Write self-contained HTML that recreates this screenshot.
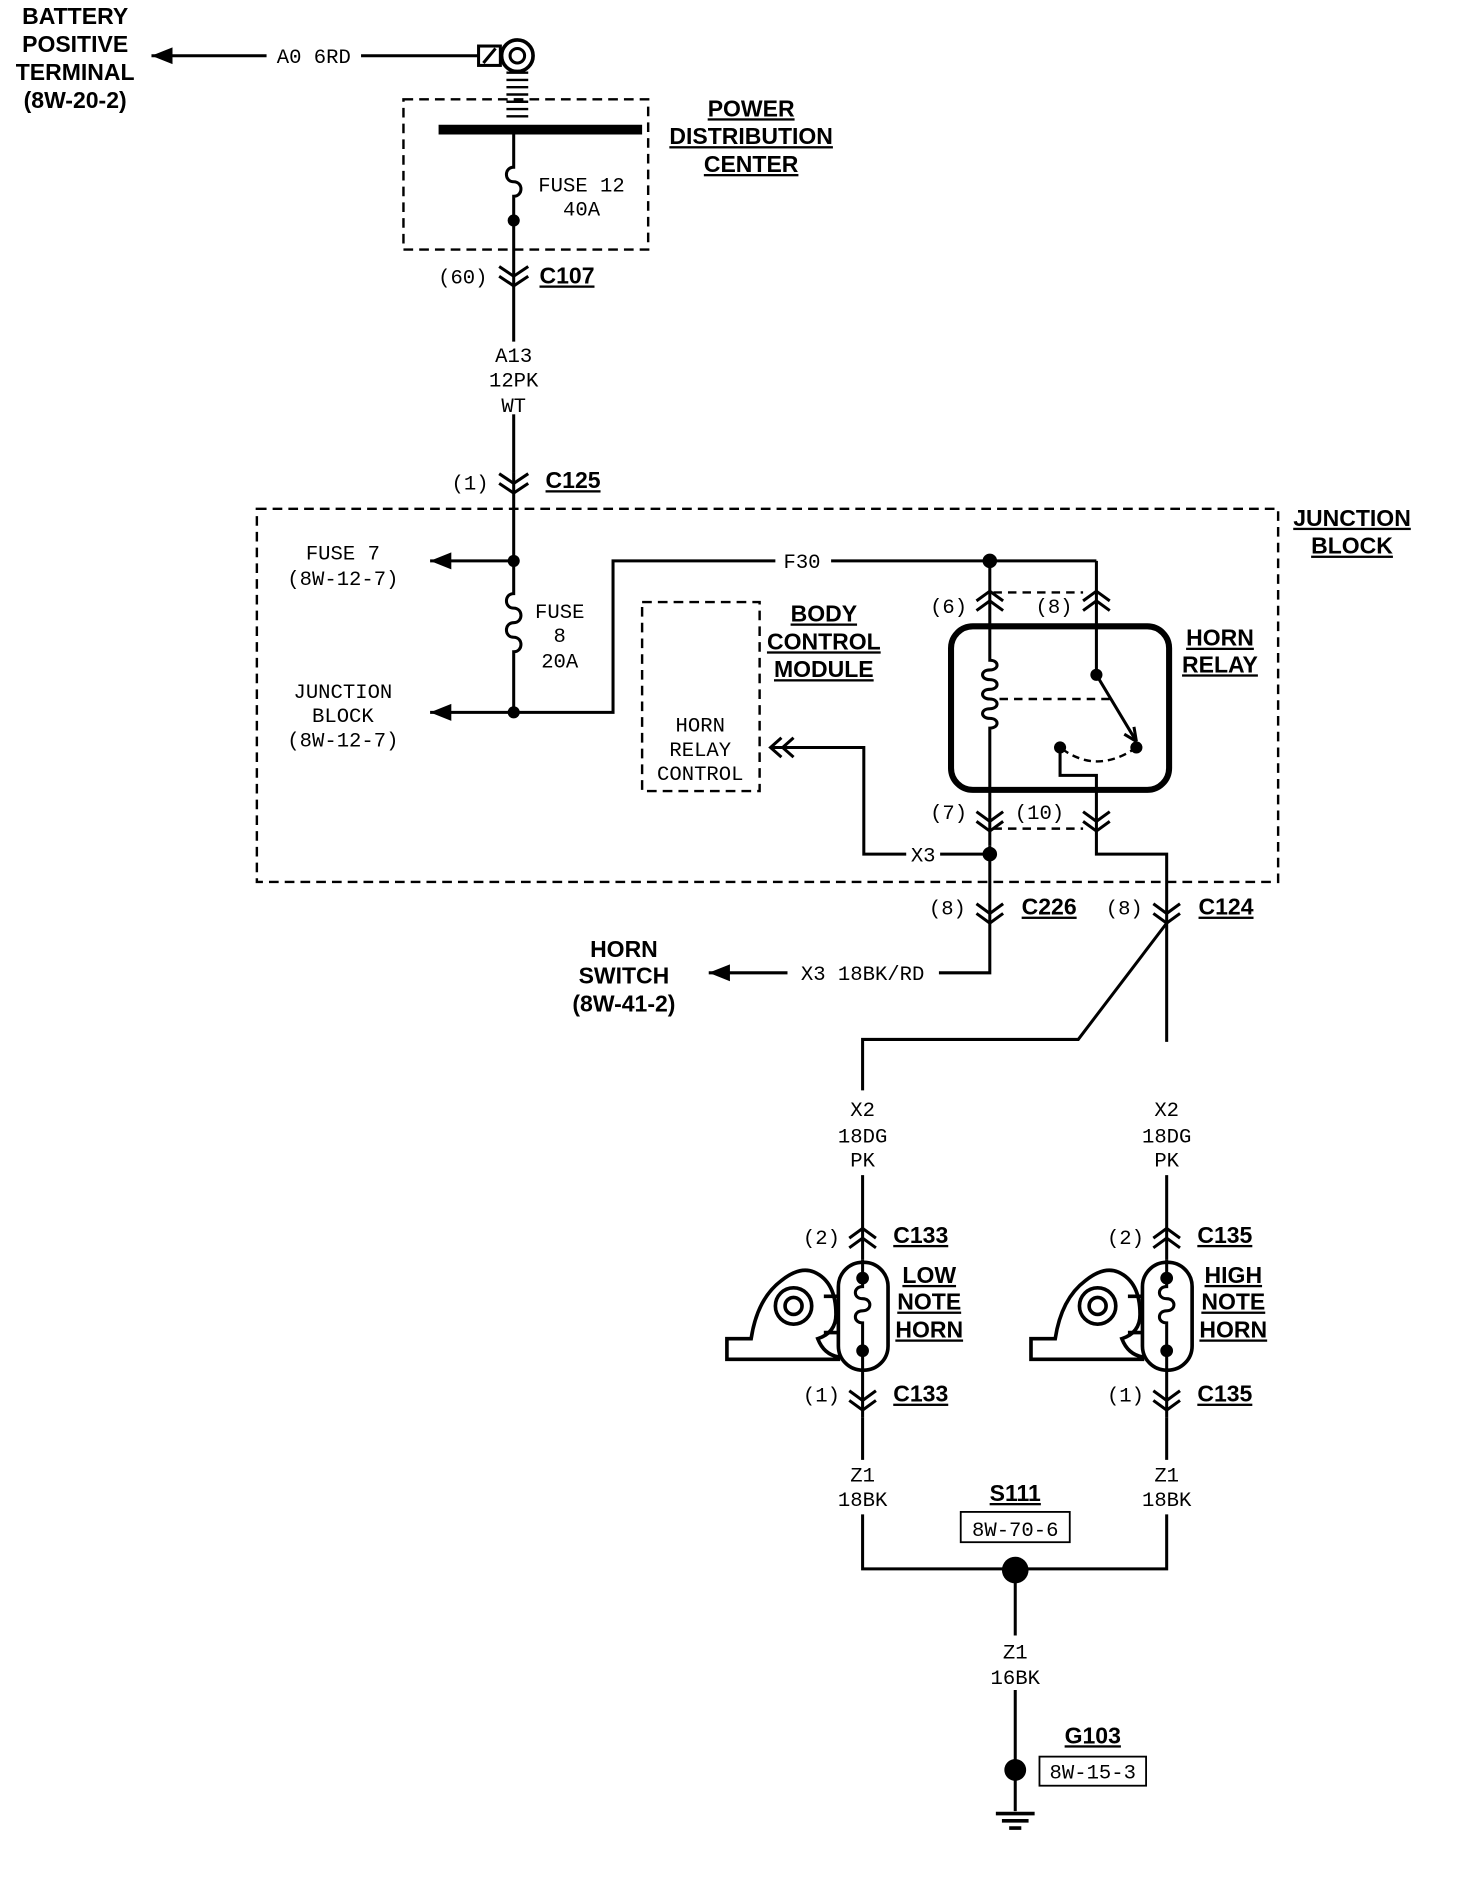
<!DOCTYPE html>
<html><head><meta charset="utf-8"><style>
html,body{margin:0;padding:0;background:#fff;width:1472px;height:1902px;overflow:hidden;}
svg{display:block;}
text{font-family:"Liberation Mono",monospace;font-size:17px;fill:#000;text-anchor:middle;}
.b{font-family:"Liberation Sans",sans-serif;font-weight:bold;font-size:19px;text-decoration:underline;}
.bn{font-family:"Liberation Sans",sans-serif;font-weight:bold;font-size:19px;}
</style></head><body>
<svg width="1472" height="1902" viewBox="0 0 1215 1570" xmlns="http://www.w3.org/2000/svg">
<defs>
<marker id="ar" viewBox="0 0 10 10" refX="10" refY="5" markerWidth="7" markerHeight="7" orient="auto"><path d="M0,1 L10,5 L0,9 z" fill="#000"/></marker>
</defs>
<g fill="none" stroke="#000" stroke-width="2.5">
<!-- battery -->
<line x1="220" y1="46" x2="125" y2="46" marker-end="url(#ar)"/>
<line x1="298" y1="46" x2="395" y2="46"/>
<rect x="395" y="38" width="18" height="16"/>
<line x1="399" y1="52" x2="409" y2="40"/>
<circle cx="427" cy="46" r="13" stroke-width="3"/>
<circle cx="427" cy="46" r="6"/>
<path d="M418,60 h18 M418,66 h18 M418,72 h18 M418,78 h18 M418,84 h18 M418,90 h18 M418,96 h18" stroke-width="2"/>
<!-- PDC -->
<rect x="333" y="82" width="202" height="124" stroke-dasharray="8,5" stroke-width="2"/>
<line x1="362" y1="107" x2="530" y2="107" stroke-width="8"/>
<path d="M424,107 V138 c-8,0 -8,12 0,12 c8,0 8,12 0,12 V282"/>
<path d="M412,220 l12,8 l12,-8 M412,228 l12,8 l12,-8"/>
<line x1="424" y1="342" x2="424" y2="390"/>
<path d="M412,391 l12,8 l12,-8 M412,399 l12,8 l12,-8"/>
<!-- junction block -->
<rect x="212" y="420" width="843" height="308" stroke-dasharray="8,5" stroke-width="2"/>
<path d="M424,390 V490 c-8,0 -8,12 0,12 c8,0 8,12 0,12 c-8,0 -8,12 0,12 c8,0 8,12 0,12 V588"/>
<line x1="424" y1="463" x2="355" y2="463" marker-end="url(#ar)"/>
<line x1="424" y1="588" x2="355" y2="588" marker-end="url(#ar)"/>
<path d="M424,588 H506 V463 H640"/>
<line x1="686" y1="463" x2="905" y2="463"/>
<!-- BCM -->
<rect x="530" y="497" width="97" height="156" stroke-dasharray="8,5" stroke-width="2"/>
<path d="M645,609 l-9,8 l9,8 M655,609 l-9,8 l9,8"/>
<path d="M636,617 H713 V705 H748 M776,705 H817"/>
<!-- relay -->
<rect x="785" y="517" width="180" height="135" rx="18" stroke-width="5"/>
<path d="M817,463 V545 c8,0 8,8 0,8 c-8,0 -8,8 0,8 c8,0 8,8 0,8 c-8,0 -8,8 0,8 c8,0 8,8 0,8 c-8,0 -8,8 0,8 c8,0 8,8 0,8 V698"/>
<path d="M806,496 l11,-8 l11,8 M806,504 l11,-8 l11,8"/>
<path d="M894,496 l11,-8 l11,8 M894,504 l11,-8 l11,8"/>
<path d="M806,670 l11,8 l11,-8 M806,678 l11,8 l11,-8"/>
<path d="M894,670 l11,8 l11,-8 M894,678 l11,8 l11,-8"/>
<path d="M820,489 H894 M820,684 H894" stroke-dasharray="7,5" stroke-width="2"/>
<path d="M825,577 H918" stroke-dasharray="7,5" stroke-width="2"/>
<path d="M905,463 V557 L938,612"/>
<path d="M938,612 l-2,-12 M938,612 l-10,-6"/>
<path d="M938,617 Q905,640 875,617" stroke-dasharray="6,4" stroke-width="2"/>
<path d="M875,617 V640 H905 V705 H963 V860"/>
<path d="M817,698 V803 H775"/>
<line x1="650" y1="803" x2="585" y2="803" marker-end="url(#ar)"/>
<path d="M806,746 l11,8 l11,-8 M806,754 l11,8 l11,-8"/>
<path d="M952,746 l11,8 l11,-8 M952,754 l11,8 l11,-8"/>
<path d="M963,762 L890,858 H712 V900"/>
<!-- horns -->
<path d="M712,970 V1040 M963,970 V1040"/>
<path d="M701,1022 l11,-8 l11,8 M701,1030 l11,-8 l11,8"/>
<path d="M952,1022 l11,-8 l11,8 M952,1030 l11,-8 l11,8"/>
<path d="M701,1148 l11,8 l11,-8 M701,1156 l11,8 l11,-8"/>
<path d="M952,1148 l11,8 l11,-8 M952,1156 l11,8 l11,-8"/>
<g id="h1">
<rect x="692" y="1042" width="41" height="89" rx="20" stroke-width="3"/>
<path d="M712,1040 V1062 c-8,0 -8,10 0,10 c8,0 8,10 0,10 c-8,0 -8,10 0,10 V1170"/>
<circle cx="712" cy="1055" r="4" fill="#000"/>
<circle cx="712" cy="1115" r="4" fill="#000"/>
<path d="M692,1070 H680 M692,1100 H680" stroke-width="3"/>
<path d="M600,1122 V1105 H620 Q625,1072 645,1057 Q660,1045 672,1050 Q690,1058 690,1085 Q690,1100 675,1105 Q680,1118 692,1120 V1122 Z" stroke-width="3"/>
<circle cx="655" cy="1078" r="15" stroke-width="3"/>
<circle cx="655" cy="1078" r="7" stroke-width="3"/>
</g>
<use href="#h1" x="251"/>
<path d="M712,1170 V1205 M963,1170 V1205"/>
<path d="M712,1250 V1295 H963 V1250"/>
<path d="M838,1295 V1350 M838,1395 V1495"/>
<path d="M822,1497 H854 M827,1503 H849 M833,1509 H843" stroke-width="3"/>
<rect x="793" y="1248" width="90" height="25" stroke-width="1.5"/>
<rect x="858" y="1450" width="88" height="24" stroke-width="1.5"/>
</g>
<g fill="#000">
<circle cx="424" cy="182" r="5"/>
<circle cx="424" cy="463" r="5"/><circle cx="424" cy="588" r="5"/>
<circle cx="817" cy="463" r="6"/><circle cx="817" cy="705" r="6"/>
<circle cx="905" cy="557" r="5"/><circle cx="938" cy="617" r="5"/><circle cx="875" cy="617" r="5"/>
<circle cx="838" cy="1296" r="11"/><circle cx="838" cy="1461" r="9"/>
</g>
<text class="bn" x="62" y="20">BATTERY</text>
<text class="bn" x="62" y="43">POSITIVE</text>
<text class="bn" x="62" y="66">TERMINAL</text>
<text class="bn" x="62" y="89">(8W-20-2)</text>
<text x="259" y="52">A0 6RD</text>
<text class="b" x="620" y="96">POWER</text>
<text class="b" x="620" y="119">DISTRIBUTION</text>
<text class="b" x="620" y="142">CENTER</text>
<text x="480" y="158">FUSE 12</text>
<text x="480" y="178">40A</text>
<text x="382" y="234">(60)</text>
<text class="b" x="468" y="234">C107</text>
<text x="424" y="299">A13</text>
<text x="424" y="319">12PK</text>
<text x="424" y="340">WT</text>
<text x="388" y="404">(1)</text>
<text class="b" x="473" y="403">C125</text>
<text class="b" x="1116" y="434">JUNCTION</text>
<text class="b" x="1116" y="457">BLOCK</text>
<text x="283" y="462">FUSE 7</text>
<text x="283" y="483">(8W-12-7)</text>
<text x="462" y="510">FUSE</text>
<text x="462" y="530">8</text>
<text x="462" y="551">20A</text>
<text x="283" y="576">JUNCTION</text>
<text x="283" y="596">BLOCK</text>
<text x="283" y="616">(8W-12-7)</text>
<text x="662" y="469">F30</text>
<text class="b" x="680" y="513">BODY</text>
<text class="b" x="680" y="536">CONTROL</text>
<text class="b" x="680" y="559">MODULE</text>
<text x="578" y="604">HORN</text>
<text x="578" y="624">RELAY</text>
<text x="578" y="644">CONTROL</text>
<text class="b" x="1007" y="533">HORN</text>
<text class="b" x="1007" y="555">RELAY</text>
<text x="783" y="506">(6)</text>
<text x="870" y="506">(8)</text>
<text x="783" y="676">(7)</text>
<text x="858" y="676">(10)</text>
<text x="762" y="711">X3</text>
<text x="782" y="755">(8)</text>
<text class="b" x="866" y="755">C226</text>
<text x="928" y="755">(8)</text>
<text class="b" x="1012" y="755">C124</text>
<text class="bn" x="515" y="790">HORN</text>
<text class="bn" x="515" y="812">SWITCH</text>
<text class="bn" x="515" y="835">(8W-41-2)</text>
<text x="712" y="809">X3 18BK/RD</text>
<text x="712" y="921">X2</text><text x="712" y="943">18DG</text><text x="712" y="963">PK</text>
<text x="963" y="921">X2</text><text x="963" y="943">18DG</text><text x="963" y="963">PK</text>
<text x="678" y="1027">(2)</text><text class="b" x="760" y="1026">C133</text>
<text x="929" y="1027">(2)</text><text class="b" x="1011" y="1026">C135</text>
<text class="b" x="767" y="1059">LOW</text><text class="b" x="767" y="1081">NOTE</text><text class="b" x="767" y="1104">HORN</text>
<text class="b" x="1018" y="1059">HIGH</text><text class="b" x="1018" y="1081">NOTE</text><text class="b" x="1018" y="1104">HORN</text>
<text x="678" y="1157">(1)</text><text class="b" x="760" y="1157">C133</text>
<text x="929" y="1157">(1)</text><text class="b" x="1011" y="1157">C135</text>
<text x="712" y="1223">Z1</text><text x="712" y="1243">18BK</text>
<text x="963" y="1223">Z1</text><text x="963" y="1243">18BK</text>
<text class="b" x="838" y="1239">S111</text>
<text x="838" y="1268">8W-70-6</text>
<text x="838" y="1369">Z1</text><text x="838" y="1390">16BK</text>
<text class="b" x="902" y="1439">G103</text>
<text x="902" y="1468">8W-15-3</text>
<text x="1157" y="1891">958W-15</text>
</svg>
</body></html>
